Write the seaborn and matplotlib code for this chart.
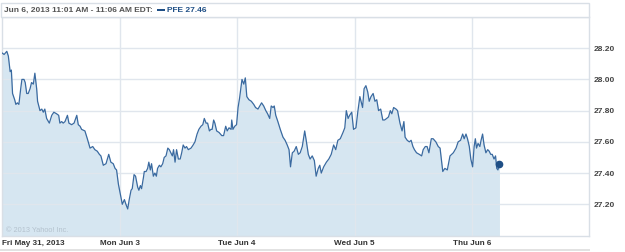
import matplotlib
matplotlib.use("Agg")
import matplotlib.pyplot as plt
from matplotlib.patches import Rectangle
import seaborn as sns
import pandas as pd

# Trading minutes since Fri May 31 09:30 (390 trading minutes per day)
minutes = [0, 7, 16, 21, 27, 31, 35, 42, 46, 51, 56, 62, 66, 73, 77, 82, 87, 93, 98, 104,
           109, 115, 118, 126, 132, 137, 142, 148, 157, 165, 172, 181, 188, 192, 198, 203,
           209, 217, 222, 231, 239, 248, 253, 259, 264, 275, 283, 292, 301, 308, 316, 323,
           328, 336, 345, 354, 361, 369, 375, 380, 386,
           391, 399, 406, 411, 417, 422, 428, 432, 438, 443, 450, 454, 459, 463, 469, 472,
           478, 483, 487, 492, 496, 502, 507, 512, 516, 522, 527, 533, 538, 544, 550, 555,
           560, 565, 569, 574, 579, 585, 591, 596, 601, 607, 612, 618, 627, 634, 640, 647,
           653, 660, 666, 671, 677, 682, 688, 693, 697, 702, 706, 712, 720, 729, 735, 742,
           747, 753, 760, 762, 766, 772, 778,
           783, 788, 796, 802, 807, 812, 819, 827, 835, 841, 849, 855, 861, 868, 875, 881,
           888, 893, 899, 903, 908, 915, 923, 932, 939, 946, 952, 957, 963, 969, 976, 983,
           989, 996, 1004, 1009, 1016, 1022, 1029, 1036, 1042, 1049, 1054, 1059, 1067, 1076,
           1084, 1092, 1100, 1107, 1114, 1122, 1131, 1137, 1142, 1148, 1153, 1160, 1166,
           1174, 1180, 1187, 1196, 1201, 1207, 1213, 1218, 1224, 1231, 1237, 1243, 1249,
           1256, 1263, 1269, 1276, 1282, 1288, 1293, 1299, 1307, 1312, 1320, 1327, 1333,
           1337, 1344, 1351, 1357, 1363, 1368, 1375, 1384, 1392, 1397, 1404, 1410, 1416,
           1424, 1430, 1439, 1447, 1453, 1462, 1469, 1477, 1486, 1497, 1506, 1513, 1521,
           1528, 1533, 1539, 1544, 1550, 1555, 1561,
           1566, 1570, 1574, 1579, 1585, 1589, 1594, 1599, 1605, 1611, 1616, 1621, 1626,
           1632, 1637, 1641, 1645, 1650]

prices = [28.17, 28.16, 28.18, 28.15, 28.05, 28.06, 27.91, 27.87, 27.84, 27.85, 27.84, 27.94,
          28.00, 28.00, 27.98, 27.91, 27.91, 27.94, 27.98, 27.97, 28.04, 27.94, 27.86, 27.80,
          27.81, 27.79, 27.81, 27.75, 27.72, 27.77, 27.79, 27.78, 27.77, 27.72, 27.73, 27.72,
          27.73, 27.77, 27.72, 27.71, 27.72, 27.77, 27.71, 27.70, 27.68, 27.67, 27.62, 27.56,
          27.57, 27.55, 27.54, 27.52, 27.51, 27.45, 27.46, 27.52, 27.47, 27.46, 27.43, 27.42,
          27.33,
          27.28, 27.20, 27.23, 27.20, 27.17, 27.23, 27.29, 27.30, 27.39, 27.38, 27.31, 27.29,
          27.32, 27.30, 27.37, 27.41, 27.41, 27.43, 27.47, 27.42, 27.46, 27.38, 27.40, 27.38,
          27.43, 27.45, 27.44, 27.46, 27.50, 27.51, 27.56, 27.55, 27.53, 27.51, 27.55, 27.47,
          27.55, 27.49, 27.49, 27.53, 27.58, 27.56, 27.57, 27.55, 27.56, 27.58, 27.60, 27.65,
          27.68, 27.70, 27.71, 27.75, 27.72, 27.72, 27.67, 27.68, 27.68, 27.74, 27.72, 27.67,
          27.66, 27.64, 27.64, 27.70, 27.67, 27.69, 27.68, 27.74, 27.68, 27.70, 27.71,
          27.82, 27.88, 28.00, 27.97, 28.01, 27.89, 27.87, 27.86, 27.84, 27.82, 27.81, 27.83,
          27.85, 27.83, 27.80, 27.78, 27.75, 27.83, 27.82, 27.83, 27.77, 27.73, 27.68, 27.63,
          27.61, 27.58, 27.55, 27.44, 27.53, 27.54, 27.57, 27.52, 27.53, 27.57, 27.67, 27.61,
          27.52, 27.49, 27.51, 27.48, 27.38, 27.43, 27.45, 27.40, 27.44, 27.47, 27.49, 27.52,
          27.58, 27.55, 27.61, 27.62, 27.66, 27.69, 27.80, 27.75, 27.77, 27.79, 27.68,
          27.69, 27.79, 27.89, 27.82, 27.94, 27.96, 27.92, 27.86, 27.89, 27.91, 27.86, 27.87,
          27.80, 27.81, 27.74, 27.74, 27.75, 27.76, 27.80, 27.78, 27.82, 27.81, 27.80, 27.72,
          27.67, 27.73, 27.63, 27.61, 27.60, 27.61, 27.57, 27.55, 27.53, 27.52, 27.51, 27.55,
          27.57, 27.57, 27.53, 27.62, 27.62, 27.60, 27.57, 27.56, 27.41, 27.43, 27.42, 27.51,
          27.53, 27.56, 27.60, 27.61, 27.65, 27.62, 27.65, 27.62, 27.57, 27.49, 27.44,
          27.57, 27.62, 27.56, 27.59, 27.57, 27.61, 27.65, 27.58, 27.53, 27.55, 27.54, 27.52,
          27.52, 27.49, 27.51, 27.43, 27.42, 27.46]

day_ticks = [0, 390, 780, 1170, 1560]
day_labels = ["Fri May 31, 2013", "Mon Jun 3", "Tue Jun 4", "Wed Jun 5", "Thu Jun 6"]
price_ticks = [27.20, 27.40, 27.60, 27.80, 28.00, 28.20]
header_text = "Jun 6, 2013 11:01 AM - 11:06 AM EDT:"
legend_text = "PFE 27.46"
copyright_text = "\u00a9 2013 Yahoo! Inc."

df = pd.DataFrame({"minute": minutes, "price": prices})

sns.set_style("white")
plt.rcParams["font.family"] = ["Liberation Sans", "DejaVu Sans"]

W, H = 625, 252
fig = plt.figure(figsize=(W / 100, H / 100), dpi=100)
ax = fig.add_axes([2 / W, 1 - 235.5 / H, 587 / W, 218.5 / H])

line_color = "#3a6aa0"
fill_color = "#d6e6f1"
grid_color = "#e0e6ed"

ax.fill_between(df["minute"], 27.0, df["price"], color=fill_color, linewidth=0, zorder=1)
sns.lineplot(data=df, x="minute", y="price", ax=ax, color=line_color, linewidth=0.9, zorder=3)
ax.plot([minutes[-1]], [prices[-1]], "o", color="#1f4f86", markersize=4.5, zorder=4)

ax.set_xlim(0, 1947)
ax.set_ylim(27.0, 28.40)
for t in price_ticks:
    ax.axhline(t, color=grid_color, linewidth=1.0, zorder=2)
for t in day_ticks[1:]:
    ax.axvline(t, color=grid_color, linewidth=1.0, zorder=2)

ax.set_xlabel("")
ax.set_ylabel("")
ax.yaxis.tick_right()
ax.set_yticks(price_ticks)
ax.set_yticklabels([f"{v:.2f}" for v in price_ticks], fontsize=6.0, color="#444444",
                   fontweight="bold")
ax.tick_params(axis="y", length=0, pad=3.5)
ax.set_xticks(day_ticks)
ax.set_xticklabels(day_labels, fontsize=5.9, color="#333333", fontweight="bold")
ax.tick_params(axis="x", length=0, pad=3.5)
ax.get_xticklabels()[0].set_horizontalalignment("left")

for s in ["left", "right", "top", "bottom"]:
    ax.spines[s].set_color("#d9dfe6")
    ax.spines[s].set_linewidth(1.0)

ax.text(0.007, 0.008, copyright_text, transform=ax.transAxes, fontsize=5.3,
        color="#b4c2ce", ha="left", va="bottom")

# header box
fig.patches.append(Rectangle((1 / W, 1 - 17 / H), 588 / W, 14 / H, transform=fig.transFigure,
                             facecolor="white", edgecolor="#d9dfe6", linewidth=1.0))
fig.text(3.5 / W, 1 - 10 / H, header_text, fontsize=6.0, color="#555555",
         fontweight="bold", ha="left", va="center")
fig.patches.append(Rectangle((157 / W, 1 - 11.3 / H), 8 / W, 2.6 / H, transform=fig.transFigure,
                             facecolor="#1f4f86", edgecolor="none"))
fig.text(167 / W, 1 - 10 / H, legend_text, fontsize=6.0, color="#1f4f86",
         fontweight="bold", ha="left", va="center")

# bottom rule
fig.patches.append(Rectangle((0, 1 - 251 / H), 590 / W, 2 / H, transform=fig.transFigure,
                             facecolor="#e2e2e2", edgecolor="none"))

fig.savefig("out.png", dpi=100)
